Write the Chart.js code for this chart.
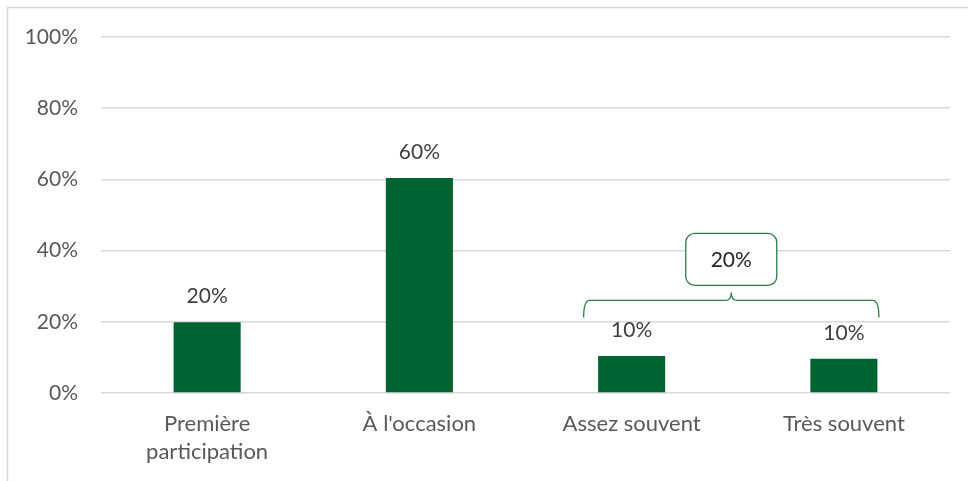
<!DOCTYPE html>
<html><head><meta charset="utf-8">
<script src="https://cdn.jsdelivr.net/npm/chart.js@4.4.0/dist/chart.umd.min.js"></script>
<style>html,body{margin:0;padding:0;background:#fff}#wrap{width:968px;height:481px;position:relative}</style>
</head><body><div id="wrap"><canvas id="c"></canvas></div>
<script>
const categories = [["Première","participation"], "À l'occasion", "Assez souvent", "Très souvent"];
const values = [19.9, 60.4, 10.4, 9.6];
const yTicks = [0, 20, 40, 60, 80, 100];
const groupLabel = "20%";

const FONT = "Lato, 'Noto Sans', sans-serif";

const frame = {
  id: 'frame',
  beforeDraw(chart) {
    const ctx = chart.ctx;
    ctx.save();
    ctx.strokeStyle = '#d9d9d9';
    ctx.lineWidth = 1.5;
    ctx.beginPath();
    ctx.moveTo(7.5, 481);
    ctx.lineTo(7.5, 7.5);
    ctx.lineTo(968, 7.5);
    ctx.stroke();
    ctx.restore();
  }
};

const labelsPlugin = {
  id: 'vlabels',
  afterDatasetsDraw(chart) {
    const ctx = chart.ctx;
    const meta = chart.getDatasetMeta(0);
    ctx.save();
    ctx.fillStyle = '#404040';
    ctx.font = "21px " + FONT;
    ctx.textAlign = 'center';
    ctx.textBaseline = 'middle';
    meta.data.forEach((bar, i) => {
      ctx.fillText(Math.round(values[i]) + '%', bar.x, bar.y - 26);
    });
    // bracket over last two bars
    const xs = chart.scales.x, ys = chart.scales.y;
    const cw = xs.getPixelForValue(1) - xs.getPixelForValue(0);
    const x1 = xs.getPixelForValue(2) - 0.226 * cw;
    const x2 = xs.getPixelForValue(3) + 0.165 * cw;
    const yb = ys.getPixelForValue(26);
    const yl = yb + 17;
    const xm = (x1 + x2) / 2;
    const r = 6;
    ctx.strokeStyle = '#2e7d46';
    ctx.lineWidth = 1.3;
    ctx.beginPath();
    ctx.moveTo(x1, yl);
    ctx.quadraticCurveTo(x1, yb, x1 + r, yb);
    ctx.lineTo(xm - r, yb);
    ctx.quadraticCurveTo(xm, yb, xm, yb - 8);
    ctx.quadraticCurveTo(xm, yb, xm + r, yb);
    ctx.lineTo(x2 - r, yb);
    ctx.quadraticCurveTo(x2, yb, x2, yl);
    ctx.stroke();
    // box
    const bw = 91, bh = 52, br = 9;
    const bx = xm - bw / 2, by = yb - 15 - bh;
    ctx.fillStyle = '#ffffff';
    ctx.beginPath();
    ctx.roundRect(bx, by, bw, bh, br);
    ctx.fill();
    ctx.stroke();
    ctx.fillStyle = '#262626';
    ctx.fillText(groupLabel, xm, by + bh / 2 + 1);
    ctx.restore();
  }
};

new Chart(document.getElementById('c'), {
  type: 'bar',
  data: {
    labels: categories,
    datasets: [{
      data: values,
      backgroundColor: '#006430',
      borderWidth: 0,
      barPercentage: 0.316,
      categoryPercentage: 1
    }]
  },
  options: {
    responsive: true,
    maintainAspectRatio: false,
    animation: false,
    layout: { padding: { top: 37, right: 18, bottom: 0, left: 0 } },
    plugins: { legend: { display: false }, tooltip: { enabled: false } },
    scales: {
      y: {
        min: 0, max: 100,
        afterBuildTicks(s) { s.ticks = yTicks.map(v => ({ value: v })); },
        afterFit(s) { s.width = 101; s.paddingTop = 0; s.paddingBottom = 0; },
        border: { display: false },
        grid: { color: '#d9d9d9', lineWidth: 1.5, drawTicks: false },
        ticks: {
          padding: 23,
          color: '#595959',
          font: { family: FONT, size: 21 },
          callback: v => v + '%'
        }
      },
      x: {
        afterFit(s) { s.height = 88; s.paddingLeft = 0; s.paddingRight = 0; },
        border: { display: false },
        grid: { display: false, drawTicks: false },
        ticks: {
          padding: 17,
          maxRotation: 0,
          autoSkip: false,
          color: '#595959',
          font: { family: FONT, size: 22, lineHeight: 1.28 }
        }
      }
    }
  },
  plugins: [frame, labelsPlugin]
});
</script></body></html>
